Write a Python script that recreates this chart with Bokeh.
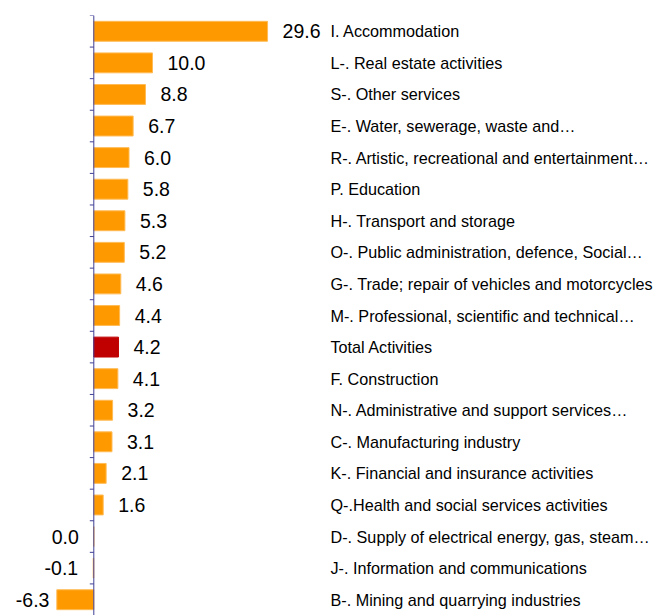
import numpy as np
from bokeh.plotting import figure
from bokeh.models import ColumnDataSource, Range1d, Span
from bokeh.core.properties import value
from bokeh.embed import file_html
from bokeh.resources import INLINE

# ---- data (top to bottom) ----
categories = [
    "I. Accommodation",
    "L-. Real estate activities",
    "S-. Other services",
    "E-. Water, sewerage, waste and…",
    "R-. Artistic, recreational and entertainment…",
    "P. Education",
    "H-. Transport and storage",
    "O-. Public administration, defence, Social…",
    "G-. Trade; repair of vehicles and motorcycles",
    "M-. Professional, scientific and technical…",
    "Total Activities",
    "F. Construction",
    "N-. Administrative and support services…",
    "C-. Manufacturing industry",
    "K-. Financial and insurance activities",
    "Q-.Health and social services activities",
    "D-. Supply of electrical energy, gas, steam…",
    "J-. Information and communications",
    "B-. Mining and quarrying industries",
]
values = [29.6, 10.0, 8.8, 6.7, 6.0, 5.8, 5.3, 5.2, 4.6, 4.4, 4.2, 4.1,
          3.2, 3.1, 2.1, 1.6, 0.0, -0.1, -6.3]
highlight = "Total Activities"

# ---- styling ----
ORANGE = "#FF9900"
ORANGE_EDGE = "#FFBB55"
RED = "#C00000"
AXIS_COL = "#3F3F96"
FONT = "Liberation Sans"

n = len(categories)
vals = np.array(values)
ypos = np.arange(n)[::-1].astype(float)  # top category highest

fill = [RED if c == highlight else ORANGE for c in categories]
edge = [RED if c == highlight else ORANGE_EDGE for c in categories]

pos = vals > 0
lbl_x = np.where(pos, vals, np.maximum(vals, -5.0))
lbl_off = np.where(pos, 15, -15)
lbl_align = ["left" if p_ else "right" for p_ in pos]
lbl_txt = ["%.1f" % v for v in vals]

src = ColumnDataSource(dict(
    y=ypos, v=vals, fill=fill, edge=edge,
    lx=lbl_x, lo=lbl_off, la=lbl_align, lt=lbl_txt,
    cat=categories,
))

W, H = 656, 615
PX_PER_UNIT = 5.87
ZERO_PX = 93.3
x_start = -ZERO_PX / PX_PER_UNIT
x_end = (W - ZERO_PX) / PX_PER_UNIT
LABEL_X = (330 - ZERO_PX) / PX_PER_UNIT

p = figure(width=W, height=H, output_backend="svg", toolbar_location=None,
           x_range=Range1d(x_start, x_end), y_range=Range1d(-0.5, n - 0.5),
           x_axis_location=None, y_axis_location=None,
           min_border_left=0, min_border_right=0, min_border_top=15,
           min_border_bottom=0)
p.outline_line_color = None
p.xgrid.visible = False
p.ygrid.visible = False
p.background_fill_color = "white"
p.border_fill_color = "white"

p.hbar(y="y", left=0, right="v", height=0.63, fill_color="fill",
       line_color="edge", line_width=1, source=src)

# vertical axis at zero with outward ticks at category boundaries
tick_y = np.arange(n + 1) - 0.5
p.ray(x=np.zeros(len(tick_y)), y=tick_y, length=4, length_units="screen",
      angle=np.pi, line_color=AXIS_COL, line_width=1)
p.add_layout(Span(location=0, dimension="height", line_color=AXIS_COL,
                  line_width=1))

p.text(x="lx", y="y", text="lt", x_offset="lo", text_align="la",
       text_baseline="middle", text_font=value(FONT),
       text_font_size="19.5px", text_color="#000000", source=src)

p.text(x=LABEL_X, y="y", text="cat", text_align="left",
       text_baseline="middle", text_font=value(FONT),
       text_font_size="16.2px", text_color="#000000", source=src)

open("out.html", "w").write(file_html(p, INLINE))
